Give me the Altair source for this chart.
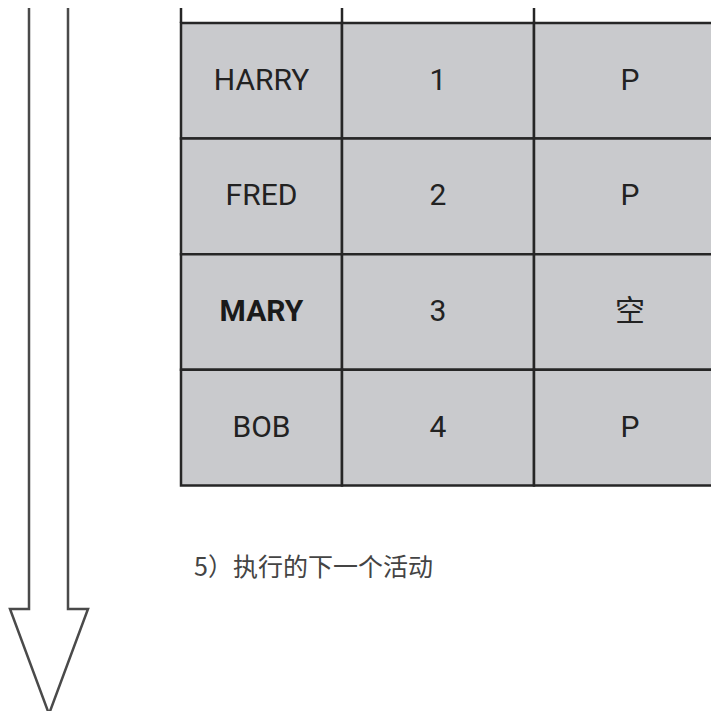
import altair as alt
import pandas as pd

# ---- data ----
names = ["HARRY", "FRED", "MARY", "BOB"]
numbers = ["1", "2", "3", "4"]
states = ["P", "P", "空", "P"]
emphasised = [False, False, True, False]
caption = "5）执行的下一个活动"

# ---- layout (image pixel units) ----
col_edges = [181, 342, 534, 726]
row_top = 23
row_h = 115.6
arrow_x = [29, 29, 10, 49, 88, 68, 68]
arrow_y = [8, 609, 609, 714, 609, 609, 8]
caption_x, caption_y = 194, 568

W = H = 703
xs = alt.Scale(domain=[8, 8 + W], range=[0, W], nice=False, zero=False)
ys = alt.Scale(domain=[8, 8 + H], range=[0, H], nice=False, zero=False)

cells, texts = [], []
for i in range(len(names)):
    y1 = row_top + i * row_h
    y2 = y1 + row_h
    vals = [names[i], numbers[i], states[i]]
    for j in range(3):
        cells.append({"x1": col_edges[j], "x2": col_edges[j + 1], "y1": y1, "y2": y2})
        texts.append({"x": (col_edges[j] + col_edges[j + 1]) / 2, "y": (y1 + y2) / 2,
                      "t": vals[j], "bold": bool(emphasised[i] and j == 0)})
cells_df = pd.DataFrame(cells)
texts_df = pd.DataFrame(texts)

stubs_df = pd.DataFrame({"x": col_edges, "y1": [8] * len(col_edges), "y2": [row_top] * len(col_edges)})
arrow_df = pd.DataFrame({"x": arrow_x, "y": arrow_y, "o": list(range(len(arrow_x)))})
cap_df = pd.DataFrame({"x": [caption_x], "y": [caption_y], "t": [caption]})

LINE = "#262626"
FONT = "Noto Sans Condensed, Roboto, Noto Sans CJK SC, sans-serif"

rects = alt.Chart(cells_df).mark_rect(fill="#c9cacd", stroke=LINE, strokeWidth=2.5, clip=True).encode(
    x=alt.X("x1:Q", scale=xs, axis=None), x2="x2:Q",
    y=alt.Y("y1:Q", scale=ys, axis=None), y2="y2:Q")

stubs = alt.Chart(stubs_df).mark_rule(color=LINE, strokeWidth=2.5, clip=True).encode(
    x=alt.X("x:Q", scale=xs, axis=None),
    y=alt.Y("y1:Q", scale=ys, axis=None), y2="y2:Q")

txt_norm = alt.Chart(texts_df).transform_filter("!datum.bold").mark_text(
    font=FONT, fontSize=30, color="#222222", baseline="middle", align="center").encode(
    x=alt.X("x:Q", scale=xs, axis=None), y=alt.Y("y:Q", scale=ys, axis=None), text="t:N")

txt_bold = alt.Chart(texts_df).transform_filter("datum.bold").mark_text(
    font=FONT, fontSize=30, fontWeight="bold", color="#1a1a1a", baseline="middle", align="center").encode(
    x=alt.X("x:Q", scale=xs, axis=None), y=alt.Y("y:Q", scale=ys, axis=None), text="t:N")

arrow = alt.Chart(arrow_df).mark_line(color="#4a4a4a", strokeWidth=2.5, strokeJoin="miter", clip=True).encode(
    x=alt.X("x:Q", scale=xs, axis=None), y=alt.Y("y:Q", scale=ys, axis=None), order="o:Q")

cap = alt.Chart(cap_df).mark_text(
    font="Noto Sans CJK SC", fontSize=25, color="#444444", align="left", baseline="middle").encode(
    x=alt.X("x:Q", scale=xs, axis=None), y=alt.Y("y:Q", scale=ys, axis=None), text="t:N")

chart = alt.layer(rects, stubs, txt_norm, txt_bold, arrow, cap).properties(
    width=W, height=H, autosize=alt.AutoSizeParams(type="none"), padding=0
).configure_view(stroke=None)

chart.save("out.html", embed_options={"renderer": "svg", "actions": False})
